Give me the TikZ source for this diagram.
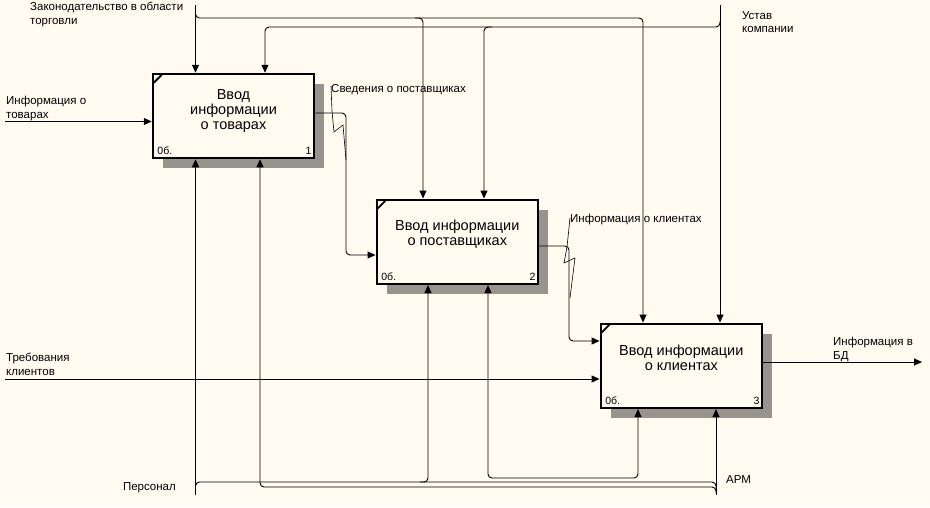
\documentclass[tikz,border=0pt]{standalone}
\usepackage{fontspec}
\setmainfont{Liberation Sans}
\usetikzlibrary{arrows.meta,calc,shadows}
\definecolor{bg}{RGB}{255,251,240}
\definecolor{shade}{RGB}{150,148,141}
\begin{document}
\begin{tikzpicture}[x=1pt,y=-1pt,
  conn/.style={line width=0.9pt},
  tip/.tip={Triangle[length=8pt,width=7pt]},
  arr/.style={conn,-tip},
  rc/.style={rounded corners=4pt},
  fbox/.style={draw, line width=2.5pt, fill=bg, minimum width=161pt, minimum height=84pt, inner sep=0pt,
    drop shadow={shadow xshift=10pt, shadow yshift=-10pt, opacity=1, fill=shade}},
  btext/.style={font=\fontsize{14.5}{15}\selectfont, align=center, anchor=base, inner sep=0pt},
  lbl/.style={font=\fontsize{11.5}{13.7}\selectfont, align=left, anchor=base west, inner sep=0pt},
  cnr/.style={font=\fontsize{10.5}{12}\selectfont, inner sep=0pt},
  cmark/.style={line width=1.8pt},
  squig/.style={line width=0.6pt},
]
\fill[bg] (0,0) rectangle (930,507);
\useasboundingbox (0,0) rectangle (930,507);

% boxes
\node[fbox] (b1) at (233.5,116) {};
\node[fbox] (b2) at (457.3,241.8) {};
\node[fbox] (b3) at (681.3,365.8) {};

% (base anchor = baseline of the last line)
\node[btext] (t1) at ($(b1.center)+(0,13.3)$) {Ввод\\информации\\о товарах};
\node[btext] (t2) at ($(b2.center)+(0,4)$) {Ввод информации\\о поставщиках};
\node[btext] (t3) at ($(b3.center)+(0,5)$) {Ввод информации\\о клиентах};

\foreach \b/\n in {b1/1,b2/2,b3/3}{
  \node[cnr, anchor=base west] (\b c) at ($(\b.south west)+(5.5,-5)$) {0б.};
  \node[cnr, anchor=base east] (\b n) at ($(\b.south east)+(-3.5,-5)$) {\n};
  \draw[cmark] ($(\b.north west)+(2,10)$) -- ($(\b.north west)+(10,2)$);
}

% controls
\coordinate (law) at (195.5,5);
\coordinate (ust) at (720,5);
\draw[arr] (law) -- (law |- b1.north);
\draw[arr] (ust) -- (ust |- b3.north);
\coordinate (c423) at (423,18);
\coordinate (c643) at (643,18);
\draw[arr,rc] (195.5,12) -- (195.5,18) -- (c643) -- (c643 |- b3.north);
\draw[arr,rc] (415,18) -- (c423) -- (c423 |- b2.north);
\coordinate (c265) at (265,27);
\coordinate (c484) at (484,27);
\draw[arr,rc] (720,21) -- (720,27) -- (c265) -- (c265 |- b1.north);
\draw[arr,rc] (492,27) -- (c484) -- (c484 |- b2.north);

% inputs / outputs
\coordinate (in1) at (5,121.5);
\draw[arr] (in1) -- (in1 -| b1.west);
\coordinate (in3) at (5,379);
\draw[arr] (in3) -- (in3 -| b3.west);
\coordinate (out3) at (922,362);
\draw[arr] (out3 -| b3.east) -- (out3);

\coordinate (j1) at (346,113);
\coordinate (j2) at (346,255);
\draw[arr,rc] (j1 -| b1.east) -- (j1) -- (j2) -- (j2 -| b2.west);
\coordinate (j3) at (569,246);
\coordinate (j4) at (569,341);
\draw[arr,rc] (j3 -| b2.east) -- (j3) -- (j4) -- (j4 -| b3.west);

% mechanisms
\coordinate (pers) at (195.5,495);
\coordinate (arm) at (716,495);
\draw[arr] (pers) -- (pers |- b1.south);
\draw[arr] (arm) -- (arm |- b3.south);
\draw[conn,rc] (195.5,489) -- (195.5,482) -- (716,482) -- (716,489);
\coordinate (m260) at (260,487);
\draw[arr,rc] (716,493) -- (716,487) -- (m260) -- (m260 |- b1.south);
\coordinate (m428) at (428,482);
\draw[arr,rc] (420,482) -- (m428) -- (m428 |- b2.south);
\coordinate (m488) at (488,478);
\coordinate (m638) at (638,478);
\draw[conn,rc,tip-tip] (m488 |- b2.south) -- (m488) -- (m638) -- (m638 |- b3.south);

% labels (base anchor = baseline of the last line)
\node[lbl] (lLaw) at (30,24.2) {Законодательство в области\\торговли};
\node[lbl] (lUst) at (742,32.7) {Устав\\компании};
\node[lbl] (lIn1) at (6,118) {Информация о\\товарах};
\node[lbl] (lIn3) at (6,375.5) {Требования\\клиентов};
\node[lbl] (lOut) at (833,359) {Информация в\\БД};
\node[lbl] (lSv) at (331,92.3) {Сведения о поставщиках};
\node[lbl] (lKl) at (570,222.7) {Информация о клиентах};
\node[lbl, anchor=base east] (lPers) at (176,490) {Персонал};
\node[lbl] (lArm) at (726,483.3) {АРМ};

% squiggles
\draw[squig] (331,86) -- (332,111) -- (334,132) -- (343,125) -- (346,160);
\draw[squig] (570,218) -- (567,247) -- (564,263) -- (575,258) -- (570,298);
\end{tikzpicture}
\end{document}
